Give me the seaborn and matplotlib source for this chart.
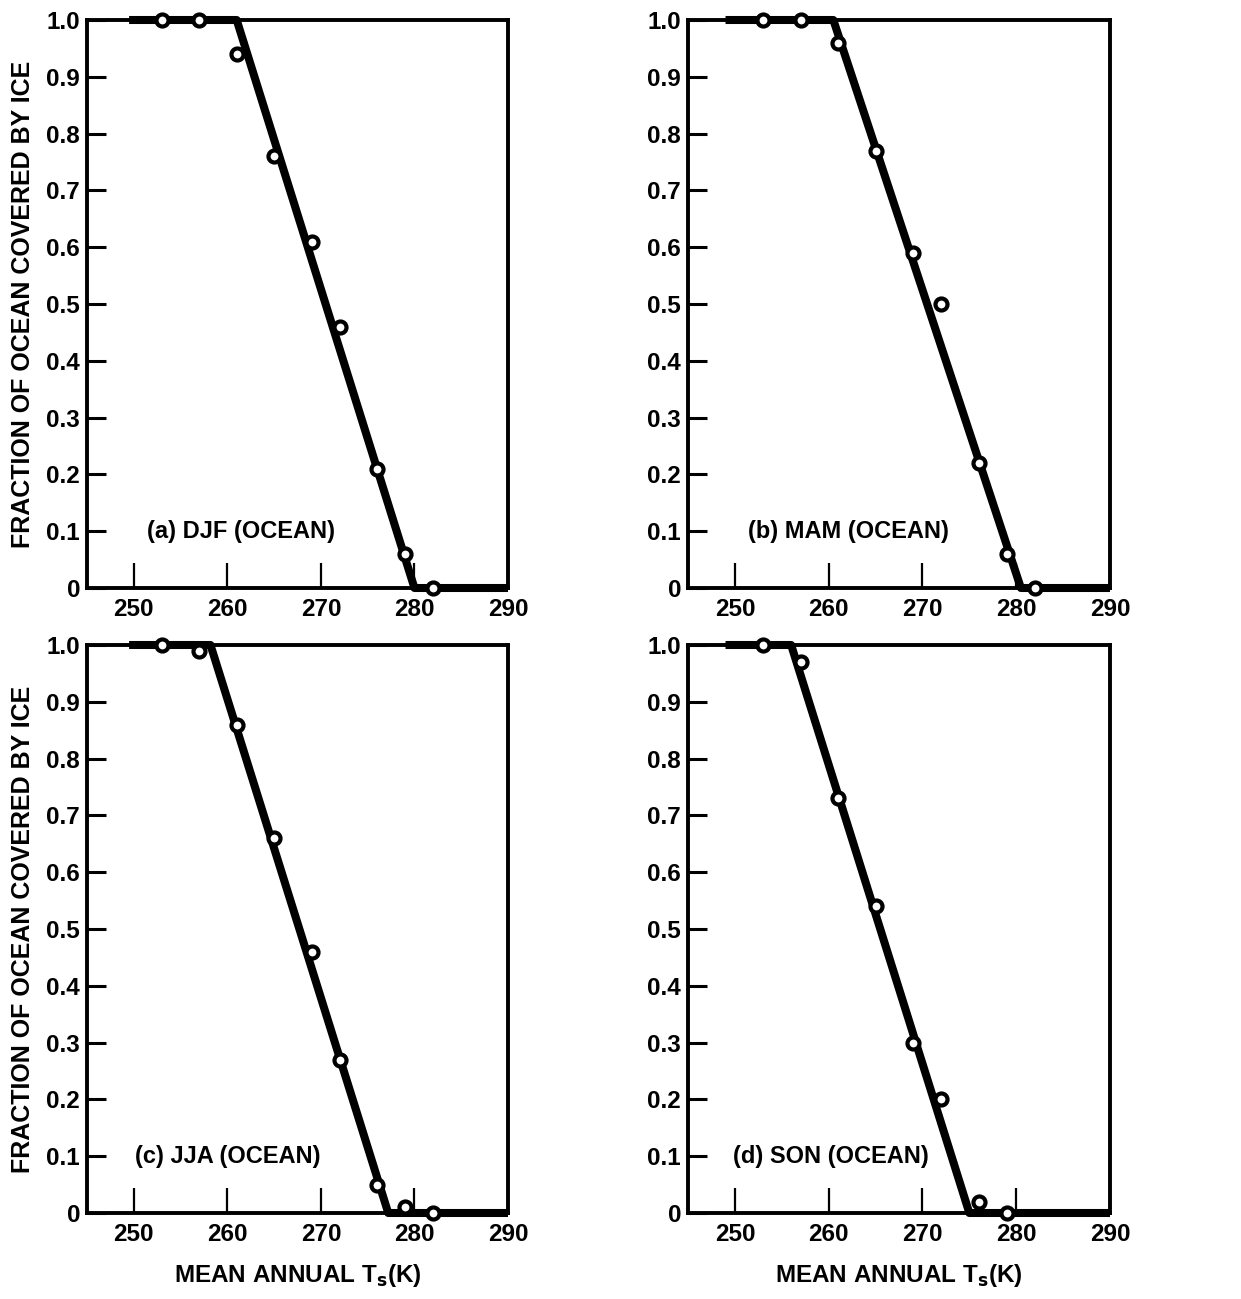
import matplotlib
matplotlib.use("Agg")
import matplotlib.pyplot as plt
import seaborn as sns

# Temperatures (K) and fraction of ocean covered by ice
t_a = [253, 257, 261, 265, 269, 272, 276, 279, 282]
f_a = [1.0, 1.0, 0.94, 0.76, 0.61, 0.46, 0.21, 0.06, 0.0]
fit_t_a = [249.5, 261, 280, 290]
fit_f_a = [1.0, 1.0, 0.0, 0.0]

t_b = [253, 257, 261, 265, 269, 272, 276, 279, 282]
f_b = [1.0, 1.0, 0.96, 0.77, 0.59, 0.50, 0.22, 0.06, 0.0]
fit_t_b = [249, 260.5, 280.5, 290]
fit_f_b = [1.0, 1.0, 0.0, 0.0]

t_c = [253, 257, 261, 265, 269, 272, 276, 279, 282]
f_c = [1.0, 0.99, 0.86, 0.66, 0.46, 0.27, 0.05, 0.01, 0.0]
fit_t_c = [249.5, 258.2, 277.2, 290]
fit_f_c = [1.0, 1.0, 0.0, 0.0]

t_d = [253, 257, 261, 265, 269, 272, 276, 279]
f_d = [1.0, 0.97, 0.73, 0.54, 0.30, 0.20, 0.02, 0.0]
fit_t_d = [249, 256, 275, 290]
fit_f_d = [1.0, 1.0, 0.0, 0.0]

titulos = ["(a) DJF (OCEAN)", "(b) MAM (OCEAN)", "(c) JJA (OCEAN)", "(d) SON (OCEAN)"]
pos_titulo = [251.4, 251.4, 250.1, 249.8]
x_ticks = [250, 260, 270, 280, 290]
y_ticks = [0, 0.1, 0.2, 0.3, 0.4, 0.5, 0.6, 0.7, 0.8, 0.9, 1.0]
y_labels = ["0", "0.1", "0.2", "0.3", "0.4", "0.5", "0.6", "0.7", "0.8", "0.9", "1.0"]

sns.set_style("ticks")
plt.rcParams['font.family'] = ['Liberation Sans', 'DejaVu Sans']
plt.rcParams['font.weight'] = 'bold'
plt.rcParams['text.color'] = 'black'
plt.rcParams['axes.labelcolor'] = 'black'
plt.rcParams['xtick.color'] = 'black'
plt.rcParams['ytick.color'] = 'black'

W, H = 1241, 1299
fig = plt.figure(figsize=(W / 100, H / 100), dpi=100)

# posicoes dos paineis em pixels: esquerda, topo, direita, base
caixas = [(87, 20, 508, 588), (688, 20, 1110, 588),
          (87, 645, 508, 1213), (688, 645, 1110, 1213)]

dados = [(t_a, f_a, fit_t_a, fit_f_a), (t_b, f_b, fit_t_b, fit_f_b),
         (t_c, f_c, fit_t_c, fit_f_c), (t_d, f_d, fit_t_d, fit_f_d)]

for i, (caixa, (t, f, ft, ff)) in enumerate(zip(caixas, dados)):
    l, top, r, b = caixa
    ax = fig.add_axes([l / W, 1 - b / H, (r - l) / W, (b - top) / H])

    sns.lineplot(x=ft, y=ff, ax=ax, color='black', linewidth=5.8,
                 solid_capstyle='butt', zorder=3, clip_on=False)
    sns.scatterplot(x=t, y=f, ax=ax, marker='o', s=75, color='white',
                    edgecolor='black', linewidth=3.0, zorder=4, clip_on=False)

    ax.set_xlim(245, 290)
    ax.set_ylim(0, 1.0)
    ax.set_xticks(x_ticks)
    ax.set_xticklabels([str(v) for v in x_ticks], fontsize=17.5, fontweight='bold')
    ax.set_yticks(y_ticks)
    ax.set_yticklabels(y_labels, fontsize=17.5, fontweight='bold')
    ax.tick_params(axis='x', direction='in', length=18, width=1.6, pad=7)
    ax.tick_params(axis='y', direction='in', length=14, width=2.2, pad=5)

    for lado in ['top', 'bottom', 'left', 'right']:
        ax.spines[lado].set_linewidth(2.8)
        ax.spines[lado].set_color('black')

    ax.text(pos_titulo[i], 0.1, titulos[i], fontsize=17, fontweight='bold',
            va='center', ha='left', color='black')

    if i in (0, 2):
        ax.set_ylabel("FRACTION OF OCEAN COVERED BY ICE", fontsize=18,
                      fontweight='bold', labelpad=8)
    else:
        ax.set_ylabel("")
    if i in (2, 3):
        ax.set_xlabel(r"MEAN ANNUAL T$_\mathbf{s}$(K)", fontsize=17.5,
                      fontweight='bold', labelpad=12)
    else:
        ax.set_xlabel("")

fig.savefig("out.png", dpi=100)
